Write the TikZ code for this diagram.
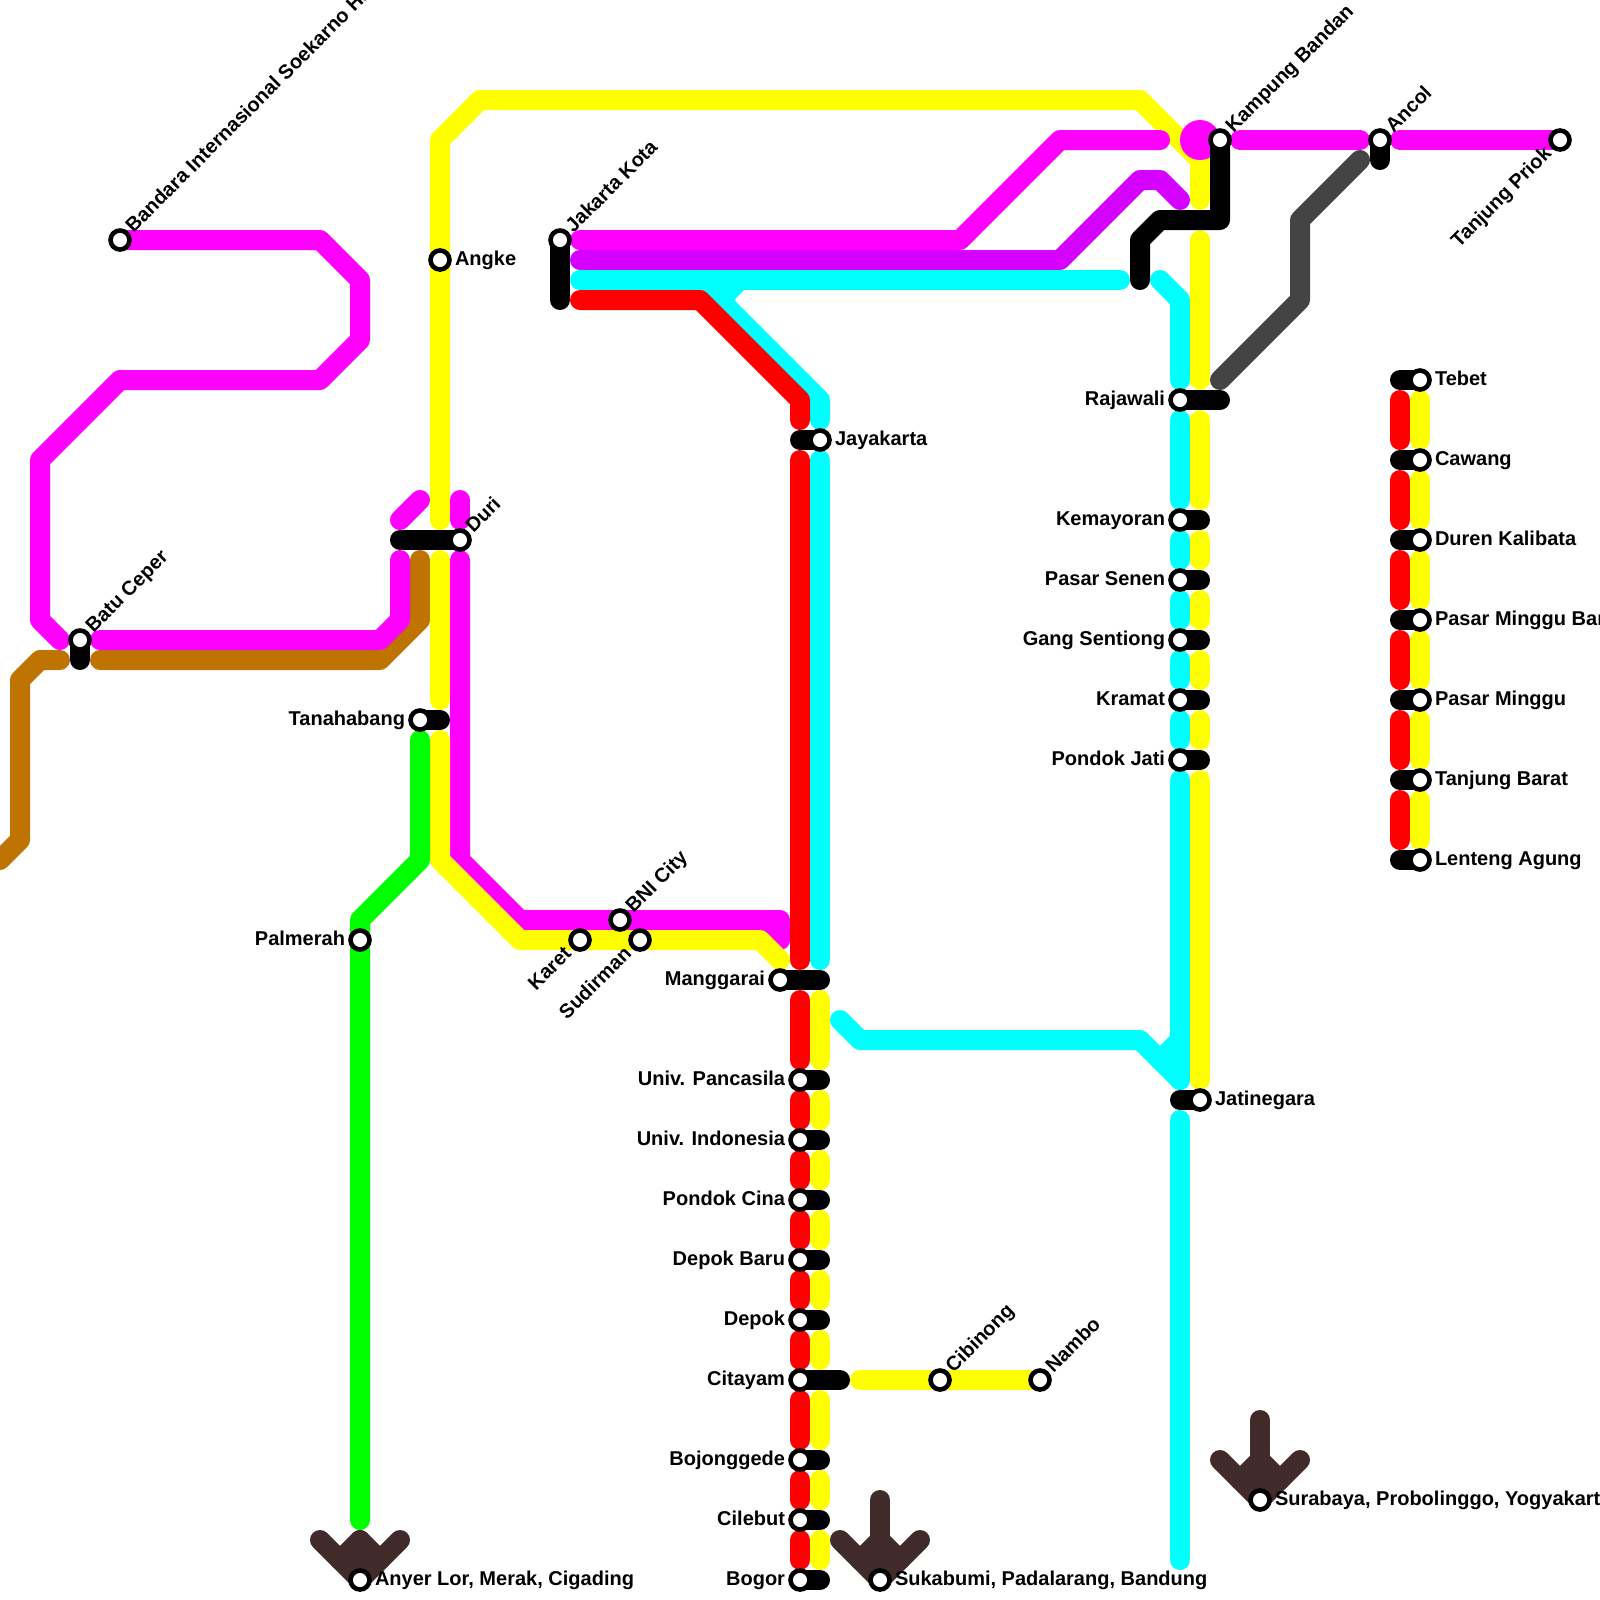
\documentclass[tikz,border=0pt]{standalone}
\usepackage{fontspec}
\setmainfont{Liberation Sans}
\definecolor{lmag}{RGB}{255,0,255}
\definecolor{lvio}{RGB}{213,0,255}
\definecolor{lcya}{RGB}{0,255,255}
\definecolor{lred}{RGB}{255,0,0}
\definecolor{lyel}{RGB}{255,255,0}
\definecolor{lbro}{RGB}{191,115,0}
\definecolor{lgre}{RGB}{0,255,0}
\definecolor{lgry}{RGB}{68,68,68}
\definecolor{ldbr}{RGB}{64,42,42}
\tikzset{
  x=.5cm,y=-.5cm,
  ln/.style={line width=.5cm,line cap=round,line join=round},
  mag/.style={ln,draw=lmag}, vio/.style={ln,draw=lvio}, cya/.style={ln,draw=lcya},
  redl/.style={ln,draw=lred}, yel/.style={ln,draw=lyel}, bro/.style={ln,draw=lbro},
  gre/.style={ln,draw=lgre}, gry/.style={ln,draw=lgry}, dbr/.style={ln,draw=ldbr},
  bar/.style={ln,draw=black},
  stat/.style={circle,draw=black,fill=white,line width=.115cm,minimum size=.475cm,inner sep=0pt,outer sep=0pt},
  lbl/.style={inner sep=0pt,outer sep=0pt,font=\bfseries\fontsize{14.23}{16}\selectfont,text=black},
  lr/.style={lbl,anchor=base west},
  ll/.style={lbl,anchor=base east},
  lne/.style={lbl,anchor=base west,rotate=45},
  lsw/.style={lbl,anchor=base east,rotate=45},
}
\newcommand{\rgt}[2]{\node[lr] at ([shift={(.75,.25)}]#1.center) {#2};}
\newcommand{\lft}[2]{\node[ll] at ([shift={(-.75,.25)}]#1.center) {#2};}
\newcommand{\dne}[2]{\node[lne] at ([shift={(.68,-.32)}]#1.center) {#2};}
\newcommand{\dsw}[2]{\node[lsw] at ([shift={(-.38,.75)}]#1.center) {#2};}
\begin{document}
\begin{tikzpicture}
\useasboundingbox (0,0) rectangle (80,80);
\fill[white] (0,0) rectangle (80,80);
\clip (0,0) rectangle (80,80);
% brown
\draw[bro] (5,33) -- (19,33) -- (21,31) -- (21,28);
\draw[bro] (3,33) -- (2,33) -- (1,34) -- (1,42) -- (0,43);
% upper yellow
\draw[yel] (22,26) -- (22,7) -- (24,5) -- (57,5) -- (60,8) -- (60,10);
% magenta
\node[circle,fill=lmag,minimum size=1cm,inner sep=0pt,outer sep=0pt] (hub) at (60,7) {};
\draw[mag] (6,12) -- (16,12) -- (18,14) -- (18,17) -- (16,19) -- (6,19) -- (2,23) -- (2,31) -- (3,32);
\draw[mag] (5,32) -- (19,32) -- (20,31) -- (20,28);
\draw[mag] (20,26) -- (21,25);
\draw[mag] (23,25) -- (23,26);
\draw[mag] (23,28) -- (23,43) -- (26,46) -- (39,46) -- (39,47) -- (38,46);
\draw[mag] (29,12) -- (48,12) -- (53,7) -- (58,7);
\draw[mag] (62,7) -- (68,7);
\draw[mag] (70,7) -- (78,7);
\draw[vio] (29,13) -- (53,13) -- (57,9) -- (58,9) -- (59,10);
% cyan
\draw[cya] (29,14) -- (56,14);
\draw[cya] (35,14) -- (41,20) -- (41,21);
\draw[cya] (37,14) -- (36,15);
\draw[cya] (41,23) -- (41,48);
\draw[cya] (58,14) -- (59,15) -- (59,19);
\draw[cya] (59,21) -- (59,25);
\foreach \a/\b in {27/28,30/31,33/34,36/37} \draw[cya] (59,\a) -- (59,\b);
\draw[cya] (59,39) -- (59,54);
\draw[cya] (42,51) -- (43,52) -- (57,52) -- (59,54);
\draw[cya] (59,52) -- (58,53);
\draw[cya] (59,56) -- (59,78);
% red
\draw[redl] (29,15) -- (35,15) -- (40,20) -- (40,21);
\draw[redl] (40,23) -- (40,48);
\foreach \a/\b in {50/53,55/56,58/59,61/62,64/65,67/68,70/72,74/75,77/78} \draw[redl] (40,\a) -- (40,\b);
\foreach \a/\b in {20/22,24/26,28/30,32/34,36/38,40/42} \draw[redl] (70,\a) -- (70,\b);
% lower yellow
\draw[yel] (22,28) -- (22,35);
\draw[yel] (22,37) -- (22,43) -- (26,47) -- (38,47) -- (39,48);
\foreach \a/\b in {50/53,55/56,58/59,61/62,64/65,67/68,70/72,74/75,77/78} \draw[yel] (41,\a) -- (41,\b);
\draw[yel] (43,69) -- (52,69);
\draw[yel] (60,12) -- (60,19);
\foreach \a/\b in {21/25,27/28,30/31,33/34,36/37,39/54} \draw[yel] (60,\a) -- (60,\b);
\foreach \a/\b in {20/22,24/26,28/30,32/34,36/38,40/42} \draw[yel] (71,\a) -- (71,\b);
% green, grey, arrows
\draw[gre] (21,37) -- (21,43) -- (18,46) -- (18,76);
\draw[gry] (61,19) -- (65,15) -- (65,11) -- (68,8);
\draw[dbr] (18,77) -- (18,79); \draw[dbr] (16,77) -- (18,79) -- (20,77); \draw[dbr] (17,78) -- (18,77) -- (19,78);
\draw[dbr] (44,75) -- (44,79); \draw[dbr] (42,77) -- (44,79) -- (46,77); \draw[dbr] (43,78) -- (44,77) -- (45,78);
\draw[dbr] (63,71) -- (63,75); \draw[dbr] (61,73) -- (63,75) -- (65,73); \draw[dbr] (62,74) -- (63,73) -- (64,74);
% anchor points of the black bars
\path
 (4,32) coordinate (cbatu)
 (28,12) coordinate (ckota)
 (23,27) coordinate (cduri)
 (21,36) coordinate (ctanah)
 (41,22) coordinate (cjaya)
 (39,49) coordinate (cmang)
 (60,55) coordinate (cjati)
 (59,20) coordinate (craja)
 (61,7) coordinate (ckamp)
 (69,7) coordinate (cancol);
\draw[bar] (cbatu) -- (4,33);
\draw[bar] (ckota) -- (28,15);
\draw[bar] (cduri) -- (20,27);
\draw[bar] (ctanah) -- (22,36);
\draw[bar] (cjaya) -- (40,22);
\draw[bar] (cmang) -- (41,49);
\draw[bar] (cjati) -- (59,55);
\draw[bar] (craja) -- (61,20);
\draw[bar] (ckamp) -- (61,11) -- (58,11) -- (57,12) -- (57,14);
\draw[bar] (cancol) -- (69,8);
\foreach \y in {26,29,32,35,38} \draw[bar] (59,\y) -- (60,\y);
\foreach \y in {54,57,60,63,66,73,76,79} \draw[bar] (40,\y) -- (41,\y);
\draw[bar] (40,69) -- (42,69);
\foreach \y in {19,23,27,31,35,39,43} \draw[bar] (70,\y) -- (71,\y);
% station discs
\node[stat] (bandara) at (6,12) {};
\node[stat] (batu) at (cbatu) {};
\node[stat] (angke) at (22,13) {};
\node[stat] (kota) at (ckota) {};
\node[stat] (duri) at (cduri) {};
\node[stat] (tanah) at (ctanah) {};
\node[stat] (palm) at (18,47) {};
\node[stat] (karet) at (29,47) {};
\node[stat] (bni) at (31,46) {};
\node[stat] (sudir) at (32,47) {};
\node[stat] (mang) at (cmang) {};
\node[stat] (jaya) at (cjaya) {};
\node[stat] (upanc) at (40,54) {};
\node[stat] (uind) at (40,57) {};
\node[stat] (pcina) at (40,60) {};
\node[stat] (dbaru) at (40,63) {};
\node[stat] (depok) at (40,66) {};
\node[stat] (cita) at (40,69) {};
\node[stat] (bojo) at (40,73) {};
\node[stat] (cile) at (40,76) {};
\node[stat] (bogor) at (40,79) {};
\node[stat] (cibi) at (47,69) {};
\node[stat] (nambo) at (52,69) {};
\node[stat] (suka) at (44,79) {};
\node[stat] (anyer) at (18,79) {};
\node[stat] (sura) at (63,75) {};
\node[stat] (jati) at (cjati) {};
\node[stat] (raja) at (craja) {};
\node[stat] (kema) at (59,26) {};
\node[stat] (senen) at (59,29) {};
\node[stat] (gang) at (59,32) {};
\node[stat] (kram) at (59,35) {};
\node[stat] (pjati) at (59,38) {};
\node[stat] (kamp) at (ckamp) {};
\node[stat] (ancol) at (cancol) {};
\node[stat] (priok) at (78,7) {};
\node[stat] (tebet) at (71,19) {};
\node[stat] (cawang) at (71,23) {};
\node[stat] (duren) at (71,27) {};
\node[stat] (pmb) at (71,31) {};
\node[stat] (pm) at (71,35) {};
\node[stat] (tbarat) at (71,39) {};
\node[stat] (lenteng) at (71,43) {};
% labels
\dne{bandara}{Bandara Internasional Soekarno Hatta}
\dne{batu}{Batu Ceper}
\dne{kota}{Jakarta Kota}
\dne{duri}{Duri}
\dne{bni}{BNI City}
\dne{cibi}{Cibinong}
\dne{nambo}{Nambo}
\dne{kamp}{Kampung Bandan}
\dne{ancol}{Ancol}
\dsw{karet}{Karet}
\dsw{sudir}{Sudirman}
\dsw{priok}{Tanjung Priok}
\rgt{angke}{Angke}
\rgt{jaya}{Jayakarta}
\rgt{jati}{Jatinegara}
\rgt{suka}{Sukabumi, Padalarang, Bandung}
\rgt{anyer}{Anyer Lor, Merak, Cigading}
\rgt{sura}{Surabaya, Probolinggo, Yogyakarta}
\rgt{tebet}{Tebet}
\rgt{cawang}{Cawang}
\rgt{duren}{Duren Kalibata}
\rgt{pmb}{Pasar Minggu Baru}
\rgt{pm}{Pasar Minggu}
\rgt{tbarat}{Tanjung Barat}
\rgt{lenteng}{Lenteng Agung}
\lft{tanah}{Tanahabang}
\lft{palm}{Palmerah}
\lft{mang}{Manggarai}
\lft{upanc}{Univ. Pancasila}
\lft{uind}{Univ. Indonesia}
\lft{pcina}{Pondok Cina}
\lft{dbaru}{Depok Baru}
\lft{depok}{Depok}
\lft{cita}{Citayam}
\lft{bojo}{Bojonggede}
\lft{cile}{Cilebut}
\lft{bogor}{Bogor}
\lft{raja}{Rajawali}
\lft{kema}{Kemayoran}
\lft{senen}{Pasar Senen}
\lft{gang}{Gang Sentiong}
\lft{kram}{Kramat}
\lft{pjati}{Pondok Jati}
\end{tikzpicture}
\end{document}
